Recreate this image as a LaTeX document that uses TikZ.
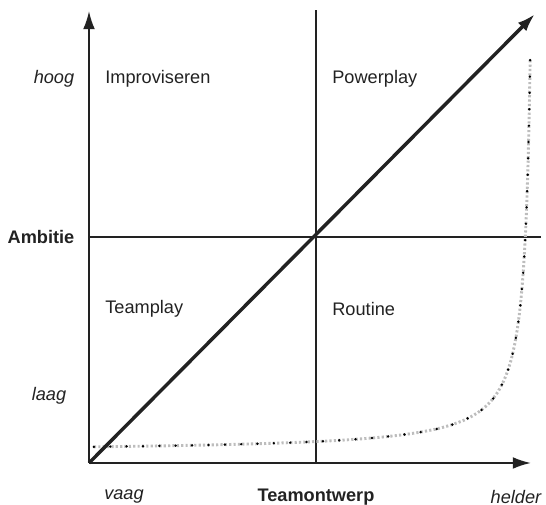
\documentclass[tikz,border=0pt]{standalone}
\usepackage{fontspec}
\setmainfont{Liberation Sans}
\usetikzlibrary{arrows.meta}
\definecolor{ink}{HTML}{222222}
\definecolor{dots}{HTML}{BDBDBD}

\begin{document}
\begin{tikzpicture}[x=0.55pt,y=0.55pt,>={Latex[length=10pt,width=6.5pt]},
  axis/.style={->,draw=ink,line width=1.1pt},
  divider/.style={draw=ink,line width=0.75pt},
  quadrant/.style={anchor=west,inner sep=0pt,text=ink},
  scalelabel/.style={font=\itshape,text=ink},
  axislabel/.style={font=\bfseries,text=ink}]
\useasboundingbox (-89,-42) rectangle (457,463);
% axes and quadrants
\coordinate (o) at (0,0);
\coordinate (ytop) at (0,452);
\coordinate (xend) at (442,0);
\coordinate (vtop) at (227,453);
\coordinate (vbot) at (227,0);
\coordinate (hleft) at (0,226);
\coordinate (hright) at (452,226);
\coordinate (diagend) at (446,449);
\draw[divider] (vbot) -- (vtop);
\draw[divider] (hleft) -- (hright);
\draw[axis] (o) -- (ytop);
\draw[axis] (o) -- (xend);
% dotted curve
\draw[dots,line width=1.6pt,dash pattern=on 1.2pt off 1.2pt]
  plot[variable=\s,domain=1.77:6.098,samples=160] ({447-exp(\s)},{11+2300*exp(-\s)});
\draw[black,line width=1.5pt,line cap=round,dash pattern=on 0pt off 9pt]
  plot[variable=\s,domain=1.77:6.098,samples=160] ({447-exp(\s)},{11+2300*exp(-\s)});
\draw[->,draw=ink,line width=1.9pt] (o) -- (diagend);
% labels
\node[quadrant] (impro) at (16,384) {Improviseren};
\node[quadrant] (power) at (243,384) {Powerplay};
\node[quadrant] (team) at (16,154) {Teamplay};
\node[quadrant] (routine) at (243,154) {Routine};
\node[scalelabel] (hoog) at (-35,384) {hoog};
\node[scalelabel] (laag) at (-40,67) {laag};
\node[axislabel] (ambitie) at (-48,226) {Ambitie};
\node[scalelabel] (vaag) at (35,-34) {vaag};
\node[axislabel] (ontwerp) at (227,-34) {Teamontwerp};
\node[scalelabel] (helder) at (427,-34) {helder};
\end{tikzpicture}
\end{document}
